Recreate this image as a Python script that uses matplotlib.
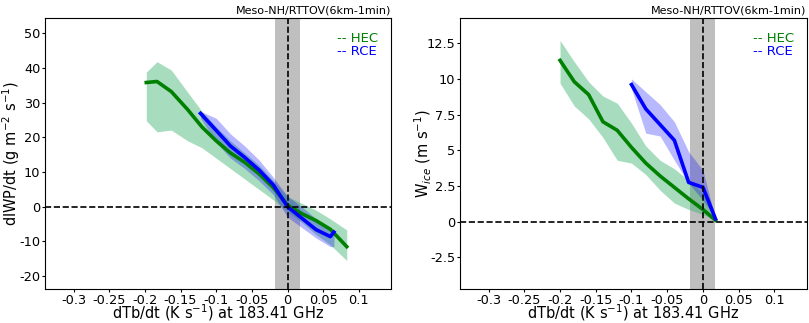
import numpy as np
import matplotlib
matplotlib.use('Agg')
import matplotlib.pyplot as plt

# ── Left panel: dIWP/dt vs dTb/dt ──
hec_x_l = [-0.198, -0.183, -0.163, -0.14, -0.12, -0.10, -0.08, -0.06, -0.04, -0.02, 0.0, 0.02, 0.04, 0.06, 0.083]
hec_y_l = [35.8, 36.1, 33.2, 28.0, 23.0, 19.0, 15.5, 12.8, 9.5, 5.5, 0.5, -2.0, -4.0, -6.5, -11.5]
hec_hi_l = [38.8, 41.8, 39.4, 33.0, 27.5, 23.0, 19.0, 15.5, 12.0, 7.5, 3.0, 1.0, -1.0, -3.5, -6.7]
hec_lo_l = [24.8, 21.6, 22.1, 19.0, 17.0, 14.0, 11.0, 8.0, 5.0, 2.0, -1.5, -4.5, -8.0, -11.0, -15.5]

rce_x_l = [-0.122, -0.10, -0.08, -0.06, -0.04, -0.02, 0.0, 0.02, 0.04, 0.06, 0.065]
rce_y_l = [26.9, 22.0, 17.5, 14.2, 10.6, 6.3, 0.0, -3.3, -6.6, -8.6, -7.3]
rce_hi_l = [27.5, 25.5, 21.0, 17.5, 13.5, 8.5, 3.0, 0.0, -3.5, -6.5, -6.5]
rce_lo_l = [25.5, 18.5, 14.0, 11.0, 7.5, 3.5, -3.0, -6.0, -9.0, -11.5, -11.5]

# ── Right panel: W_ice vs dTb/dt ──
hec_x_r = [-0.2, -0.18, -0.16, -0.14, -0.12, -0.10, -0.08, -0.06, -0.04, -0.02, 0.0, 0.0175]
hec_y_r = [11.3, 9.8, 8.9, 7.0, 6.4, 5.2, 4.1, 3.2, 2.4, 1.6, 0.85, 0.1]
hec_hi_r = [12.7, 11.2, 9.8, 8.8, 8.3, 6.9, 5.3, 4.3, 3.7, 2.9, 2.0, 0.1]
hec_lo_r = [9.7, 8.1, 7.2, 5.9, 4.3, 4.1, 3.3, 2.2, 1.3, 0.85, 0.5, 0.1]

rce_x_r = [-0.1, -0.08, -0.06, -0.04, -0.02, 0.0, 0.0175]
rce_y_r = [9.6, 7.9, 6.8, 5.7, 2.75, 2.4, 0.2]
rce_hi_r = [10.0, 9.1, 8.2, 7.0, 4.9, 3.6, 0.2]
rce_lo_r = [9.3, 6.2, 6.0, 4.3, 2.7, 1.5, 0.2]

xticks = [-0.3, -0.25, -0.2, -0.15, -0.1, -0.05, 0, 0.05, 0.1]
xticklabels = ['-0.3', '-0.25', '-0.2', '-0.15', '-0.1', '-0.05', '0', '0.05', '0.1']
yticks_l = [-20, -10, 0, 10, 20, 30, 40, 50]
yticklabels_l = ['-20', '-10', '0', '10', '20', '30', '40', '50']
yticks_r = [-2.5, 0, 2.5, 5, 7.5, 10, 12.5]
yticklabels_r = ['-2.5', '0', '2.5', '5', '7.5', '10', '12.5']

title = 'Meso-NH/RTTOV(6km-1min)'
xlabel = 'dTb/dt (K s$^{-1}$) at 183.41 GHz'
thresh = 0.0175

fig = plt.figure(figsize=(8.09, 3.23), dpi=100)
ax1 = fig.add_axes([0.0556, 0.1053, 0.4277, 0.8390])
ax2 = fig.add_axes([0.5686, 0.1053, 0.4284, 0.8390])

panels = [
    (ax1, (hec_x_l, hec_y_l, hec_lo_l, hec_hi_l), (rce_x_l, rce_y_l, rce_lo_l, rce_hi_l),
     (-23.7, 54.4), yticks_l, yticklabels_l, 'dIWP/dt (g m$^{-2}$ s$^{-1}$)', -0.082),
    (ax2, (hec_x_r, hec_y_r, hec_lo_r, hec_hi_r), (rce_x_r, rce_y_r, rce_lo_r, rce_hi_r),
     (-4.72, 14.27), yticks_r, yticklabels_r, 'W$_{ice}$ (m s$^{-1}$)', -0.089),
]

for ax, hec, rce, ylim, yt, ytl, ylab, ylab_x in panels:
    ax.axvspan(-thresh, thresh, color='gray', alpha=0.5, lw=0, zorder=1)
    ax.fill_between(hec[0], hec[2], hec[3], color='mediumseagreen', alpha=0.45, lw=0, zorder=2)
    ax.fill_between(rce[0], rce[2], rce[3], color='blue', alpha=0.28, lw=0, zorder=3)
    ax.plot(hec[0], hec[1], color='green', lw=2.6, zorder=4)
    ax.plot(rce[0], rce[1], color='blue', lw=2.6, zorder=5)
    ax.axhline(0, color='black', ls='--', lw=1.2, zorder=6)
    ax.axvline(0, color='black', ls='--', lw=1.2, zorder=6)
    ax.set_xlim(-0.34, 0.145)
    ax.set_ylim(*ylim)
    ax.set_xticks(xticks)
    ax.set_xticklabels(xticklabels, fontsize=9.3)
    ax.set_yticks(yt)
    ax.set_yticklabels(ytl, fontsize=9.3)
    ax.tick_params(length=2.5, pad=0.8)
    ax.set_xlabel(xlabel, fontsize=10.5, va='baseline')
    ax.xaxis.set_label_coords(0.5, -0.108)
    ax.set_ylabel(ylab, fontsize=10.5, va='baseline')
    ax.yaxis.set_label_coords(ylab_x, 0.5)
    ax.set_title(title, loc='right', fontsize=8, pad=3)
    ax.text(0.845, 0.925, '-- HEC', color='green', fontsize=9.5, transform=ax.transAxes, va='center')
    ax.text(0.845, 0.875, '-- RCE', color='blue', fontsize=9.5, transform=ax.transAxes, va='center')

fig.savefig('out.png', dpi=100)
